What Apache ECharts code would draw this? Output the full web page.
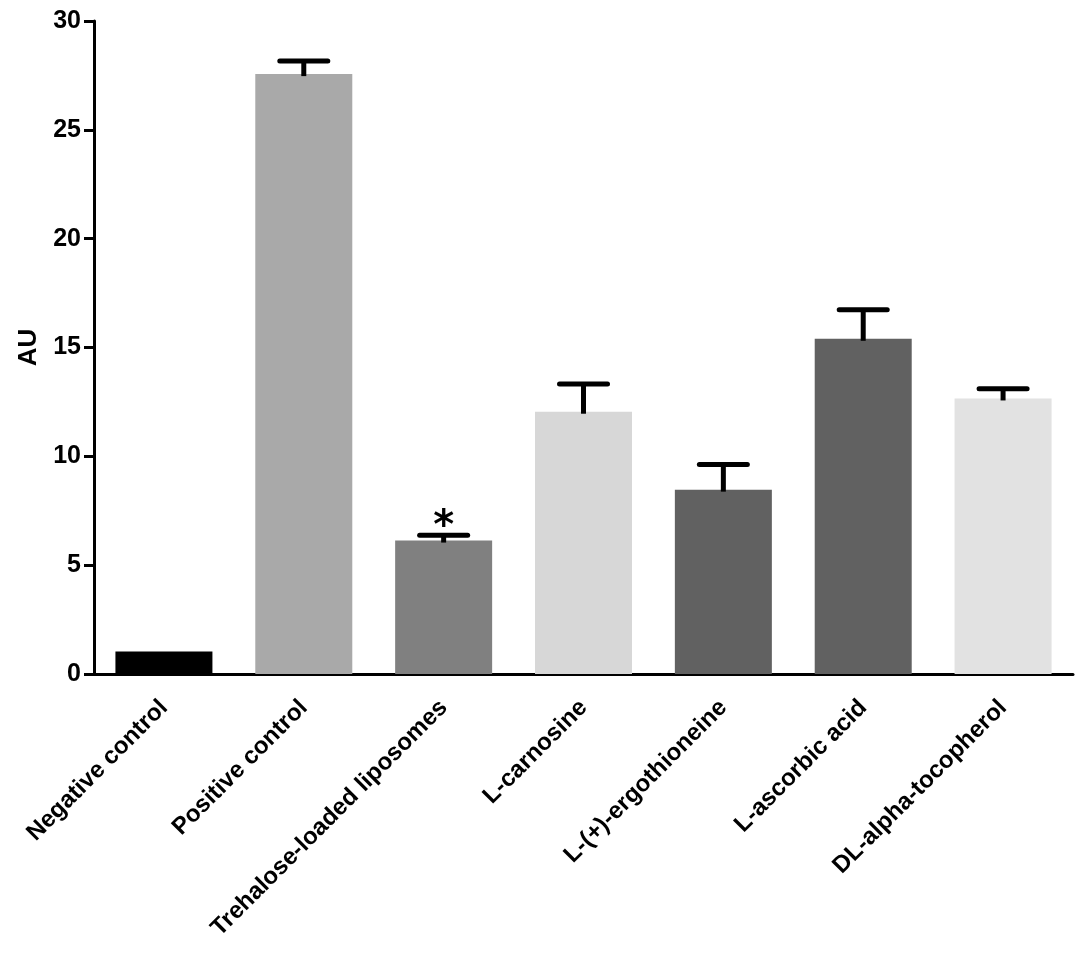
<!DOCTYPE html>
<html><head><meta charset="utf-8">
<script src="https://cdn.jsdelivr.net/npm/echarts@6/dist/echarts.min.js"></script>
<style>html,body{margin:0;padding:0;background:#fff}#c{width:1087px;height:957px}</style>
</head><body><div id="c"></div>
<script>
const categories = ['Negative control','Positive control','Trehalose-loaded liposomes','L-carnosine','L-(+)-ergothioneine','L-ascorbic acid','DL-alpha-tocopherol'];
const means = [1.03, 27.56, 6.13, 12.05, 8.47, 15.40, 12.66];
const errors = [0, 0.6, 0.24, 1.27, 1.15, 1.33, 0.45];
const marks = ['', '', '*', '', '', '', ''];
const colors = ['#000000','#a9a9a9','#808080','#d7d7d7','#616161','#616161','#e2e2e2'];
const yTicks = [0, 5, 10, 15, 20, 25, 30];

const chart = echarts.init(document.getElementById('c'));
const font = '"Liberation Sans", Arial, sans-serif';
chart.setOption({
  animation: false,
  grid: {left: 94, right: 14, top: 21, bottom: 283, containLabel: false},
  xAxis: {
    type: 'category', data: categories,
    axisLine: {lineStyle: {color: '#000', width: 3}},
    axisTick: {alignWithLabel: true, length: 10, lineStyle: {color: '#000', width: 3}},
    axisLabel: {rotate: 45, interval: 0, color: '#000', fontFamily: font, fontWeight: 'bold', fontSize: 24, margin: 30}
  },
  yAxis: {
    type: 'value', min: yTicks[0], max: yTicks[yTicks.length-1], interval: 5,
    name: 'AU', nameLocation: 'middle', nameGap: 47, nameRotate: 90,
    nameTextStyle: {color: '#000', fontFamily: font, fontWeight: 'bold', fontSize: 26},
    axisLine: {show: true, lineStyle: {color: '#000', width: 3}},
    axisTick: {show: true, length: 10, lineStyle: {color: '#000', width: 3}},
    axisLabel: {color: '#000', fontFamily: font, fontWeight: 'bold', fontSize: 25, margin: 13},
    splitLine: {show: false}
  },
  series: [
    {
      type: 'bar', barWidth: 97, z: 2,
      data: means.map((v, i) => ({value: v, itemStyle: {color: colors[i]}}))
    },
    {
      type: 'custom', z: 3,
      data: means.map((v, i) => [i, v, v + errors[i]]),
      renderItem: function (params, api) {
        const x = api.value(0);
        const lo = api.coord([x, api.value(1)]);
        const hi = api.coord([x, api.value(2)]);
        const half = 24;
        const children = [];
        if (api.value(2) > api.value(1)) {
          const st = {stroke: '#000', lineWidth: 5};
          children.push({type: 'line', shape: {x1: lo[0], y1: lo[1] + 2, x2: hi[0], y2: hi[1]}, style: st});
          children.push({type: 'line', shape: {x1: hi[0] - half, y1: hi[1], x2: hi[0] + half, y2: hi[1]}, style: Object.assign({lineCap: 'round'}, st)});
        }
        const m = marks[params.dataIndex];
        if (m) {
          children.push({type: 'text', style: {text: m, x: hi[0], y: hi[1] + 12, align: 'center', verticalAlign: 'bottom', fill: '#000', font: 'bold 40px "DejaVu Sans", sans-serif'}});
        }
        return {type: 'group', children: children};
      }
    }
  ]
});
</script></body></html>
